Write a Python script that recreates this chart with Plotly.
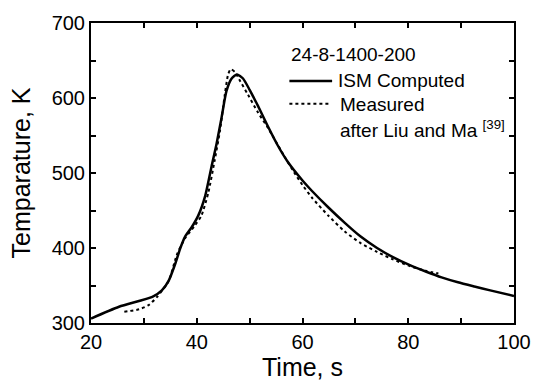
import plotly.graph_objects as go

# ISM Computed (solid)
ism_time = [20, 25.3, 31.6, 33.4, 34.7, 35.9, 36.9, 37.8, 39.1, 40.3, 41.6, 42.8, 43.75,
            44.7, 45.6, 46.6, 47.6, 48.75, 50.0, 51.6, 53.4, 55.3, 57.2, 60.0, 61.8, 64.9,
            68.0, 71.0, 74.1, 77.1, 80.2, 83.3, 86.3, 89.4, 92.5, 95.5, 100]
ism_temp = [306, 321.7, 334.8, 343.5, 356.5, 378.3, 400, 415.2, 428.3, 443.5, 469.6, 508.7, 539,
            574, 608.7, 626, 631.3, 626, 610.9, 589.1, 563, 537, 515, 490, 476, 454,
            433.5, 415.2, 400, 387.8, 377.4, 368.7, 360.9, 354.3, 348.7, 343.5, 336]

# Measured after Liu and Ma (dotted)
meas_time = [26.3, 29.1, 30.9, 32.5, 34.7, 36.25, 37.8, 39.7, 40.9, 42.2, 43.4, 44.4, 45.3,
             45.9, 46.4, 47.2, 48.1, 49.7, 51.6, 53.4, 56.6, 58.4, 60.0, 61.8, 64.9, 68.0,
             71.0, 74.1, 77.1, 80.2, 83.3, 85.7]
meas_temp = [315, 318.3, 323.9, 334.8, 356, 391.3, 413, 430.4, 443.5, 474, 517.4, 556.5, 604.3,
             630.4, 638.3, 634.8, 623.9, 604.3, 580.4, 560.9, 522, 501, 484, 467, 443, 422,
             406.5, 394.8, 384.8, 376.1, 369.6, 366]

x_tickvals = [20, 40, 60, 80, 100]
x_ticktext = ["20", "40", "60", "80", "100"]
y_tickvals = [300, 400, 500, 600, 700]
y_ticktext = ["300", "400", "500", "600", "700"]

legend_title = "24-8-1400-200"
legend_names = ["ISM Computed", "Measured", "after Liu and Ma <sup>[39]</sup>"]

FONT = "Liberation Sans, Arial, sans-serif"

fig = go.Figure()
fig.add_trace(go.Scatter(x=ism_time, y=ism_temp, mode="lines",
                         line=dict(color="black", width=2.5, shape="spline", smoothing=0.6),
                         name=legend_names[0], showlegend=False))
fig.add_trace(go.Scatter(x=meas_time, y=meas_temp, mode="lines",
                         line=dict(color="black", width=2, dash="dot", shape="spline", smoothing=0.6),
                         name=legend_names[1], showlegend=False))

axis_common = dict(showline=True, linewidth=2, linecolor="black", mirror="ticks",
                   ticks="inside", ticklen=5, tickwidth=1.5, tickcolor="black",
                   showgrid=False, zeroline=False,
                   tickfont=dict(family=FONT, size=20, color="black"))

fig.update_xaxes(range=[20, 100], tickmode="array", tickvals=x_tickvals, ticktext=x_ticktext,
                 minor=dict(dtick=10, tick0=20, ticks="inside", ticklen=5, tickwidth=1.5, tickcolor="black"),
                 title=dict(text="Time, s", font=dict(family=FONT, size=25, color="black"), standoff=4),
                 **axis_common)
fig.update_yaxes(range=[300, 700], tickmode="array", tickvals=y_tickvals, ticktext=y_ticktext,
                 minor=dict(dtick=50, tick0=300, ticks="inside", ticklen=5, tickwidth=1.5, tickcolor="black"),
                 title=dict(text="Temparature, K", font=dict(family=FONT, size=25, color="black"), standoff=14),
                 **axis_common)

# legend drawn manually
fs = 19
fig.add_annotation(xref="paper", yref="paper", x=0.469, y=0.895, xanchor="left", yanchor="middle",
                   text=legend_title, showarrow=False, font=dict(family=FONT, size=fs, color="black"))
fig.add_shape(type="line", xref="paper", yref="paper", x0=0.469, x1=0.570, y0=0.807, y1=0.807,
              line=dict(color="black", width=2.5))
fig.add_annotation(xref="paper", yref="paper", x=0.580, y=0.807, xanchor="left", yanchor="middle",
                   text=legend_names[0], showarrow=False, font=dict(family=FONT, size=fs, color="black"))
fig.add_shape(type="line", xref="paper", yref="paper", x0=0.469, x1=0.566, y0=0.731, y1=0.731,
              line=dict(color="black", width=2, dash="dot"))
fig.add_annotation(xref="paper", yref="paper", x=0.583, y=0.728, xanchor="left", yanchor="middle",
                   text=legend_names[1], showarrow=False, font=dict(family=FONT, size=fs, color="black"))
fig.add_annotation(xref="paper", yref="paper", x=0.583, y=0.646, xanchor="left", yanchor="middle",
                   text=legend_names[2], showarrow=False, font=dict(family=FONT, size=fs, color="black"))

fig.update_layout(width=543, height=387, margin=dict(l=91, r=19, t=18, b=64),
                  plot_bgcolor="white", paper_bgcolor="white", showlegend=False,
                  font=dict(family=FONT, color="black"))

fig.write_html("out.html")
